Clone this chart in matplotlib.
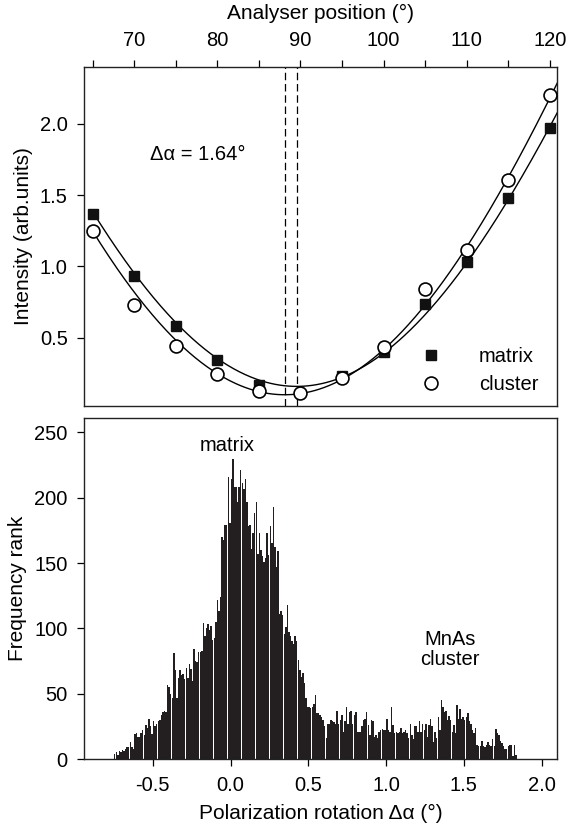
import numpy as np
import matplotlib
matplotlib.use('Agg')
import matplotlib.pyplot as plt

plt.rcParams['font.family'] = ['Liberation Sans', 'DejaVu Sans']

# top panel: intensity vs analyser position
angle_matrix = [65, 70, 75, 80, 85, 95, 100, 105, 110, 115, 120]
int_matrix = [1.37, 0.93, 0.58, 0.34, 0.17, 0.23, 0.40, 0.735, 1.03, 1.48, 1.97]
angle_cluster = [65, 70, 75, 80, 85, 90, 95, 100, 105, 110, 115, 120]
int_cluster = [1.246, 0.73, 0.44, 0.245, 0.122, 0.11, 0.216, 0.437, 0.838, 1.113, 1.608, 2.203]
min_matrix = 89.55
min_cluster = 88.1

# bottom panel: histogram of polarization rotation
bin_start = -0.75
bin_width = 0.01
counts = [
    4, 5, 3, 6, 5, 7, 6, 8, 9, 9,
    13, 9, 8, 19, 20, 17, 17, 20, 22, 18,
    26, 24, 31, 25, 19, 29, 25, 27, 29, 30,
    34, 36, 37, 36, 57, 55, 50, 47, 81, 68,
    47, 62, 68, 64, 65, 61, 70, 62, 73, 69,
    60, 84, 75, 74, 82,
    82, 83, 104, 94, 100, 103, 99, 102, 91, 93,
    105, 122, 113, 124, 170, 168, 179, 179, 216, 181,
    214, 230, 208, 208, 197, 208, 221, 211, 207, 214,
    197, 178, 179, 161, 173, 188, 197, 157, 173, 160,
    155, 151, 154, 173, 156, 178, 165, 193, 162, 147,
    159, 111, 113, 110, 96, 101, 118, 97, 94,
    90, 88, 94, 90, 76, 68, 63, 66, 58, 47, 40,
    40, 39, 40, 42, 49, 35, 35, 34, 32, 30,
    25, 16, 27, 27, 30, 29, 28, 27, 37, 27,
    30, 34, 21, 29, 40, 27, 36, 37, 27, 34,
    36, 21, 21, 21, 25, 30, 31, 36, 26, 18,
    30, 29, 17, 18, 16, 21, 22, 23, 22, 22,
    31, 22, 21, 40, 26, 20, 21, 20, 21, 24,
    20, 21, 22, 20, 16, 27, 18, 15, 25, 25,
    21, 29, 21, 27, 22, 27, 17, 26, 31, 25,
    13, 21, 16, 32, 22, 45, 40, 36, 37, 30,
    33, 30, 21, 26, 20, 41, 31, 38, 31, 32,
    30, 32, 35, 29, 27, 22, 20, 24, 11, 10,
    10, 14, 10, 9, 11, 13, 11, 10, 15, 10,
    23, 20, 18, 14, 12, 10, 8, 8, 10, 11,
    11, 2, 11, 3,
]


def malus_fit(theta, y, theta0):
    s = np.sin(np.radians(np.array(theta) - theta0)) ** 2
    A = np.vstack([s, np.ones_like(s)]).T
    a, b = np.linalg.lstsq(A, np.array(y), rcond=None)[0]
    return a, b


fig = plt.figure(figsize=(5.67, 8.35), dpi=100)
ax1 = fig.add_axes([0.1489, 0.5138, 0.8339, 0.4063])
ax2 = fig.add_axes([0.1489, 0.0910, 0.8339, 0.4084])

fs = 14.5

# ---- top panel
xx = np.linspace(65, 120.9, 400)
a, b = malus_fit(angle_matrix, int_matrix, min_matrix)
ax1.plot(xx, a * np.sin(np.radians(xx - min_matrix)) ** 2 + b, color='black', lw=1.0, zorder=2)
a, b = malus_fit(angle_cluster, int_cluster, min_cluster)
ax1.plot(xx, a * np.sin(np.radians(xx - min_cluster)) ** 2 + b, color='black', lw=1.0, zorder=2)

ax1.axvline(min_cluster, color='black', lw=0.9, ls=(0, (6, 3)), zorder=1)
ax1.axvline(min_matrix, color='black', lw=0.9, ls=(0, (6, 3)), zorder=1)

ax1.plot(angle_matrix, int_matrix, ls='none', marker='s', ms=7.5, mfc='#111111',
         mec='#111111', label='matrix', zorder=3)
ax1.plot(angle_cluster, int_cluster, ls='none', marker='o', ms=9.3, mfc='white',
         mec='black', mew=1.2, label='cluster', zorder=4)

ax1.text(71.9, 1.785, u'\u0394\u03b1 = 1.64\u00b0', fontsize=fs, va='center', ha='left')

ax1.set_xlim(64.0, 120.9)
ax1.set_ylim(0.02, 2.4)
ax1.xaxis.tick_top()
ax1.xaxis.set_label_position('top')
ax1.set_xticks([65, 70, 75, 80, 85, 90, 95, 100, 105, 110, 115, 120])
ax1.set_xticklabels(['', '70', '', '80', '', '90', '', '100', '', '110', '', '120'])
ax1.set_yticks([0.5, 1.0, 1.5, 2.0])
ax1.set_xlabel(u'Analyser position (\u00b0)', fontsize=15, labelpad=9)
ax1.set_ylabel('Intensity (arb.units)', fontsize=15, labelpad=5)
ax1.tick_params(direction='out', length=5, width=0.9, labelsize=fs, pad=7)

leg = ax1.legend(loc='lower right', bbox_to_anchor=(0.96, 0.035), frameon=False,
                 fontsize=fs, handlelength=1.0, handletextpad=1.9, labelspacing=0.45,
                 borderpad=0, borderaxespad=0)

# ---- bottom panel
centers = bin_start + bin_width * (np.arange(len(counts)) + 0.5)
ax2.bar(centers, counts, width=bin_width * 0.93, color='#231f20', lw=0)
ax2.text(-0.02, 240, 'matrix', fontsize=fs, ha='center', va='center')
ax2.text(1.41, 84, 'MnAs\ncluster', fontsize=fs, ha='center', va='center', linespacing=1.05)

ax2.set_xlim(-0.94, 2.1)
ax2.set_ylim(0, 261)
ax2.set_xticks([-0.5, 0.0, 0.5, 1.0, 1.5, 2.0])
ax2.set_xticklabels(['-0.5', '0.0', '0.5', '1.0', '1.5', '2.0'])
ax2.set_yticks([0, 50, 100, 150, 200, 250])
ax2.set_xlabel(u'Polarization rotation \u0394\u03b1 (\u00b0)', fontsize=15, labelpad=7)
ax2.set_ylabel('Frequency rank', fontsize=15, labelpad=5)
ax2.tick_params(direction='out', length=5, width=0.9, labelsize=fs, pad=7)

for ax in (ax1, ax2):
    for sp in ax.spines.values():
        sp.set_linewidth(1.0)
        sp.set_color('#222222')

fig.savefig('out.png', dpi=100)
